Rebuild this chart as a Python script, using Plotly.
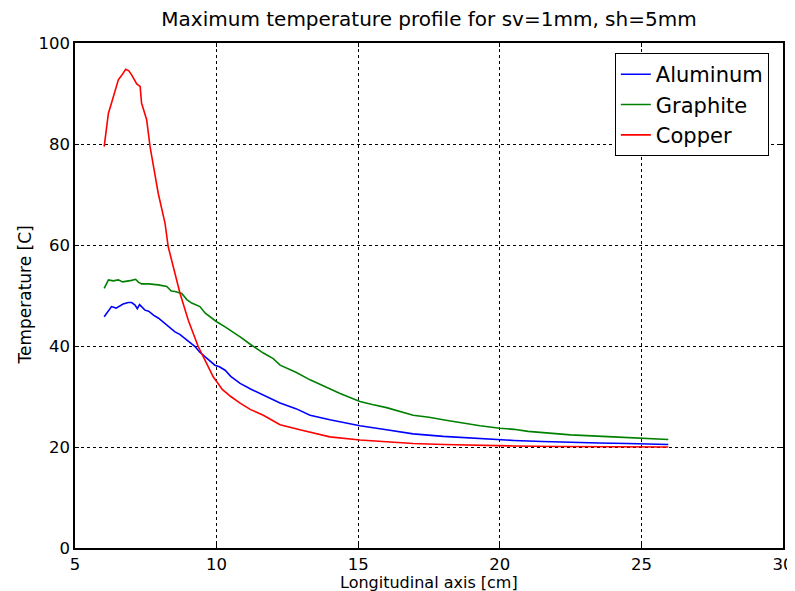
import plotly.graph_objects as go

# Aluminum
al_x = [6.03, 6.18, 6.29, 6.45, 6.53, 6.7, 6.88, 7.0, 7.12, 7.2, 7.28, 7.35, 7.47, 7.6, 7.77, 7.95,
        8.18, 8.35, 8.53, 8.7, 8.88, 9.05, 9.24, 9.4, 9.59, 9.77, 9.94, 10.1, 10.3, 10.5, 10.83,
        11.2, 11.65, 12.24, 12.8, 13.3, 14.0, 15.06, 16.0, 16.94, 18.0, 18.95, 19.3, 20.5,
        21.5, 22.5, 23.5, 24.5, 25.3, 25.95]
al_y = [45.8, 46.9, 47.8, 47.5, 47.8, 48.3, 48.6, 48.6, 48.1, 47.4, 48.2, 47.8, 47.1, 46.9, 46.1, 45.5,
        44.5, 43.6, 42.8, 42.3, 41.5, 40.6, 39.9, 38.8, 37.9, 37.2, 36.2, 35.9, 35.2, 34.0, 32.6,
        31.5, 30.3, 28.7, 27.6, 26.3, 25.4, 24.2, 23.4, 22.6, 22.1, 21.8, 21.6, 21.3,
        21.1, 20.9, 20.8, 20.7, 20.6, 20.5]

# Graphite
gr_x = [6.03, 6.18, 6.35, 6.53, 6.68, 6.82, 7.0, 7.14, 7.25, 7.35, 7.6, 7.94, 8.24, 8.4, 8.53,
        8.77, 8.95, 9.12, 9.41, 9.6, 9.77, 10.0, 10.3, 10.55, 10.83, 11.2, 11.65, 12.0, 12.24,
        12.8, 13.3, 14.36, 15.06, 15.5, 16.0, 16.94, 17.5, 18.1, 18.95, 19.3, 20.0, 20.5,
        21.0, 22.5, 24.0, 25.07, 25.95]
gr_y = [51.4, 53.1, 52.9, 53.1, 52.7, 52.8, 53.0, 53.2, 52.6, 52.3, 52.3, 52.1, 51.8, 50.9, 50.8,
        50.4, 49.2, 48.5, 47.8, 46.5, 45.8, 44.8, 43.8, 42.9, 41.8, 40.3, 38.6, 37.5, 36.2,
        34.8, 33.3, 30.6, 29.0, 28.4, 27.8, 26.3, 25.9, 25.3, 24.5, 24.2, 23.7, 23.5,
        23.1, 22.4, 22.0, 21.7, 21.5]

# Copper
cu_x = [6.03, 6.18, 6.29, 6.4, 6.53, 6.65, 6.79, 6.9, 7.0, 7.18, 7.3, 7.35, 7.53, 7.65, 7.77,
        7.94, 8.18, 8.29, 8.47, 8.71, 9.0, 9.35, 9.59, 9.88, 10.2, 10.5, 10.83, 11.2, 11.65,
        12.24, 12.94, 14.0, 15.06, 16.0, 16.94, 18.0, 19.3, 20.5, 22.0, 24.0, 25.95]
cu_y = [79.5, 86.1, 88.1, 90.0, 92.7, 93.6, 94.8, 94.5, 93.7, 91.9, 91.4, 88.1, 84.8, 79.5, 75.5,
        70.2, 64.3, 59.7, 55.7, 50.4, 45.1, 39.9, 37.2, 33.9, 31.4, 30.0, 28.7, 27.4, 26.3,
        24.4, 23.4, 22.0, 21.4, 21.0, 20.7, 20.5, 20.3, 20.2, 20.1, 20.05, 20.0]

series = [("Aluminum", al_x, al_y, "#0000ff"),
          ("Graphite", gr_x, gr_y, "#008000"),
          ("Copper", cu_x, cu_y, "#ff0000")]

x_ticks = [5, 10, 15, 20, 25, 30]
y_ticks = [0, 20, 40, 60, 80, 100]

fig = go.Figure()
for name, xs, ys, col in series:
    fig.add_trace(go.Scatter(x=xs, y=ys, mode="lines", name=name,
                             line=dict(color=col, width=1.6)))

font = "DejaVu Sans, Verdana, sans-serif"
axis_common = dict(showline=True, linecolor="black", linewidth=1.5, mirror="ticks",
                   showgrid=True, gridcolor="black", gridwidth=1, griddash="dot",
                   zeroline=False, ticks="inside", ticklen=4, tickwidth=1, tickcolor="black",
                   automargin=False,
                   tickfont=dict(family=font, size=16.5, color="black"))

# page body has an 8px offset, so the figure is sized to fill the rest of the window
W, H = 787, 583
PW, PH = 708, 505  # plot area size in px
fig.update_layout(
    width=W, height=H,
    paper_bgcolor="white", plot_bgcolor="white",
    margin=dict(l=67, r=12, t=35, b=43),
    title=dict(text="Maximum temperature profile for sv=1mm, sh=5mm",
               x=(429 - 8) / W, xanchor="center", y=1 - 4 / H, yanchor="top",
               automargin=False, pad=dict(t=0, b=0),
               font=dict(family=font, size=20, color="black")),
    xaxis=dict(range=[5, 30], tickvals=x_ticks, ticktext=[str(v) for v in x_ticks],
               **axis_common),
    yaxis=dict(range=[0, 100], tickvals=y_ticks, ticktext=[str(v) for v in y_ticks],
               **axis_common),
    legend=dict(x=0.98, y=0.98, xanchor="right", yanchor="top",
                bgcolor="white", bordercolor="black", borderwidth=1,
                font=dict(family=font, size=21, color="black"),
                tracegroupgap=0),
    showlegend=True,
    annotations=[
        dict(text="Longitudinal axis [cm]", xref="paper", yref="paper",
             x=0.5, y=-(582 - 548) / PH, xanchor="center", yanchor="middle",
             showarrow=False, font=dict(family=font, size=16, color="black")),
        dict(text="Temperature [C]", xref="paper", yref="paper", textangle=-90,
             x=-(75 - 24) / PW, y=0.5, xanchor="center", yanchor="middle",
             showarrow=False, font=dict(family=font, size=17, color="black")),
    ],
)

fig.write_html("out.html")
